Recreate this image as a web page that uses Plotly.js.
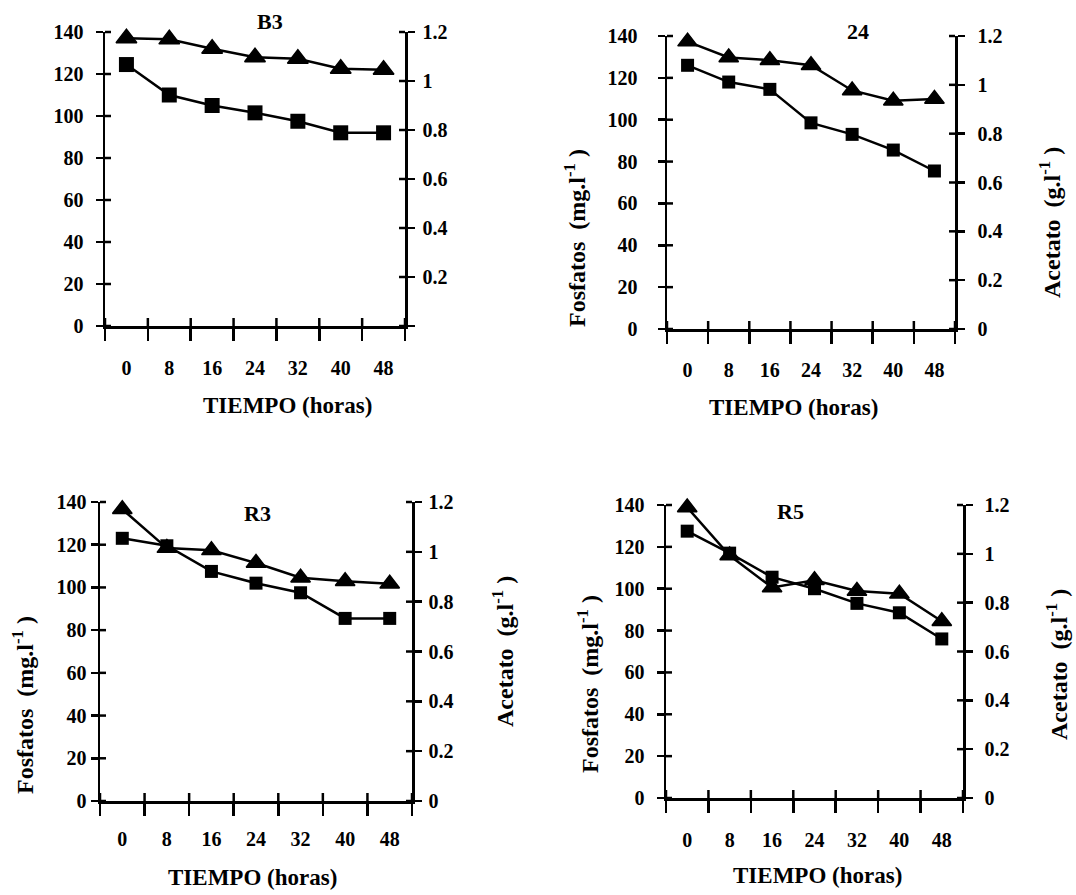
<!DOCTYPE html>
<html><head><meta charset="utf-8">
<script src="https://cdn.plot.ly/plotly-3.0.1.min.js"></script>
<style>html,body{margin:0;padding:0;background:#fff}#chart{width:1076px;height:895px}</style>
</head><body><div id="chart"></div>
<script>
// ---- data ----
const hours = [0, 8, 16, 24, 32, 40, 48];
const hourLabels = ['0', '8', '16', '24', '32', '40', '48'];
const panelNames = ['B3', '24', 'R3', 'R5'];

// Fosfatos (mg/l) - squares, left axis
const fosfatosB3 = [124.5, 110, 105, 101.5, 97.5, 92, 92];
const fosfatos24 = [126, 118, 114.5, 98.5, 93, 85.5, 75.5];
const fosfatosR3 = [123, 119.5, 107.5, 102, 97.5, 85.5, 85.5];
const fosfatosR5 = [127.5, 117, 105.5, 100, 93, 88.5, 76];

// Acetato (g/l) - triangles, right axis
const acetatoB3 = [1.175, 1.17, 1.132, 1.097, 1.091, 1.05, 1.046];
const acetato24 = [1.177, 1.112, 1.101, 1.08, 0.977, 0.935, 0.942];
const acetatoR3 = [1.171, 1.015, 1.006, 0.955, 0.896, 0.882, 0.872];
const acetatoR5 = [1.19, 0.993, 0.862, 0.892, 0.848, 0.837, 0.724];

const fosfatosTicks = [0, 20, 40, 60, 80, 100, 120, 140];
const fosfatosTickText = ['0', '20', '40', '60', '80', '100', '120', '140'];
const acetatoTicks = [0, 0.2, 0.4, 0.6, 0.8, 1, 1.2];
const acetatoTickText = ['0', '0.2', '0.4', '0.6', '0.8', '1', '1.2'];
const acetatoTickTextB3 = ['', '0.2', '0.4', '0.6', '0.8', '1', '1.2'];

const xTitleText = 'TIEMPO (horas)';
const yLeftTitleText = 'Fosfatos  (mg.l<sup>-1</sup> )';
const yRightTitleText = 'Acetato  (g.l<sup>-1</sup> )';

// ---- layout / style ----
const W = 1076, H = 895;
const FONT = 'Liberation Serif, Times New Roman, serif';
const BLACK = '#000';
const panels = [
  {name: panelNames[0], fos: fosfatosB3, ace: acetatoB3, rText: acetatoTickTextB3,
   box: [105, 405, 32, 326], title: [270, 21], xTitle: [287, 405], yl: null, yr: null,
   lGap: 17, rGap: 13, xGap: 22, sq: 15, tri: 18},
  {name: panelNames[1], fos: fosfatos24, ace: acetato24, rText: acetatoTickText,
   box: [667, 955, 36, 329], title: [858, 32], xTitle: [793, 408], yl: [575, 238], yr: [1050, 223],
   lGap: 25, rGap: 18, xGap: 21, sq: 13, tri: 17},
  {name: panelNames[2], fos: fosfatosR3, ace: acetatoR3, rText: acetatoTickText,
   box: [100, 412, 502, 801], title: [257, 513], xTitle: [252, 877], yl: [23, 705], yr: [503, 652],
   lGap: 9, rGap: 12, xGap: 18, sq: 13, tri: 17},
  {name: panelNames[3], fos: fosfatosR5, ace: acetatoR5, rText: acetatoTickText,
   box: [666, 963, 505, 798], title: [790, 512], xTitle: [817, 875], yl: [588, 684], yr: [1057, 665],
   lGap: 17, rGap: 17, xGap: 22, sq: 13, tri: 17}
];

const half = (hours[1] - hours[0]) / 2;
const bounds = hours.map(h => h - half).concat([hours[hours.length - 1] + half]);
const xRange = [bounds[0], bounds[bounds.length - 1]];
const fosRange = [0, 140];
const aceRange = [0, 1.2];

const axId = (p, n) => (n === 1 ? p : p + n);
const axKey = (p, n) => (p === 'x' ? 'xaxis' : 'yaxis') + (n === 1 ? '' : n);

const data = [];
const layout = {
  width: W, height: H, margin: {l: 0, r: 0, t: 0, b: 0},
  paper_bgcolor: '#fff', plot_bgcolor: 'rgba(0,0,0,0)',
  showlegend: false, annotations: [], shapes: [],
  font: {family: FONT, color: BLACK}
};

const tickFont = {family: FONT, size: 20, color: BLACK, weight: 'bold'};
const LW = 2.5;
const tickLine = {color: BLACK, width: LW};
const lerp = (d, r, v) => d[0] + (v - r[0]) / (r[1] - r[0]) * (d[1] - d[0]);

panels.forEach((p, i) => {
  const b = i * 2;
  const X = axId('x', b + 1), YL = axId('y', b + 1), YR = axId('y', b + 2);
  const xd = [p.box[0] / W, p.box[1] / W];
  const yd = [1 - p.box[3] / H, 1 - p.box[2] / H];
  const common = {showgrid: false, zeroline: false, fixedrange: true, tickcolor: BLACK, tickwidth: LW};

  layout[axKey('x', b + 1)] = Object.assign({}, common, {
    domain: xd, anchor: YL, range: xRange, autorange: false,
    tickmode: 'array', tickvals: hours, ticktext: hourLabels, ticks: '',
    showline: true, linecolor: BLACK, linewidth: LW,
    tickfont: tickFont, ticklabelstandoff: p.xGap,
    minor: {tickmode: 'array', tickvals: bounds, ticks: 'outside', ticklen: 12,
            tickwidth: LW, tickcolor: BLACK, showgrid: false}
  });
  layout[axKey('y', b + 1)] = Object.assign({}, common, {
    domain: yd, anchor: X, range: fosRange, autorange: false,
    tickmode: 'array', tickvals: fosfatosTicks, ticktext: fosfatosTickText,
    ticks: 'outside', ticklen: 7, showline: true, linecolor: BLACK, linewidth: LW,
    tickfont: tickFont, ticklabelstandoff: Math.max(0, p.lGap - 9)
  });
  layout[axKey('y', b + 2)] = Object.assign({}, common, {
    overlaying: YL, anchor: X, side: 'right', range: aceRange, autorange: false,
    tickmode: 'array', tickvals: acetatoTicks, ticktext: p.rText,
    ticks: 'outside', ticklen: 7, showline: true, linecolor: BLACK, linewidth: LW,
    tickfont: tickFont, ticklabelstandoff: Math.max(0, p.rGap - 9)
  });

  // inner halves of the crossing tick marks, placed by mapping the tick values onto the axis domains
  bounds.forEach(v => {
    const px = lerp(xd, xRange, v);
    layout.shapes.push({type: 'line', xref: 'paper', yref: 'paper', layer: 'above',
      x0: px, x1: px, y0: yd[0], y1: yd[0] + 8 / H, line: tickLine});
  });
  fosfatosTicks.forEach(v => {
    const py = lerp(yd, fosRange, v);
    layout.shapes.push({type: 'line', xref: 'paper', yref: 'paper', layer: 'above',
      x0: xd[0], x1: xd[0] + 6 / W, y0: py, y1: py, line: tickLine});
  });
  acetatoTicks.forEach(v => {
    const py = lerp(yd, aceRange, v);
    layout.shapes.push({type: 'line', xref: 'paper', yref: 'paper', layer: 'above',
      x0: xd[1] - 6 / W, x1: xd[1], y0: py, y1: py, line: tickLine});
  });

  data.push({
    type: 'scatter', mode: 'lines+markers', name: 'Fosfatos ' + p.name,
    x: hours, y: p.fos, xaxis: X, yaxis: YL,
    line: {color: BLACK, width: LW},
    marker: {symbol: 'square', size: p.sq, color: BLACK}, cliponaxis: false
  });
  data.push({
    type: 'scatter', mode: 'lines+markers', name: 'Acetato ' + p.name,
    x: hours, y: p.ace, xaxis: X, yaxis: YR,
    line: {color: BLACK, width: LW},
    marker: {symbol: 'triangle-up', size: p.tri, color: BLACK, line: {color: BLACK, width: 1.5}}, cliponaxis: false
  });

  const ann = (pt, text, size, angle) => layout.annotations.push({
    text: text, xref: 'paper', yref: 'paper', x: pt[0] / W, y: 1 - pt[1] / H,
    xanchor: 'center', yanchor: 'middle', showarrow: false, textangle: angle || 0,
    font: {family: FONT, size: size, color: BLACK, weight: 'bold'}
  });
  ann(p.title, p.name, 22);
  ann(p.xTitle, xTitleText, 23);
  if (p.yl) ann(p.yl, yLeftTitleText, 24, -90);
  if (p.yr) ann(p.yr, yRightTitleText, 24, -90);
});

Plotly.newPlot('chart', data, layout, {displayModeBar: false, staticPlot: true});
</script>
</body></html>
